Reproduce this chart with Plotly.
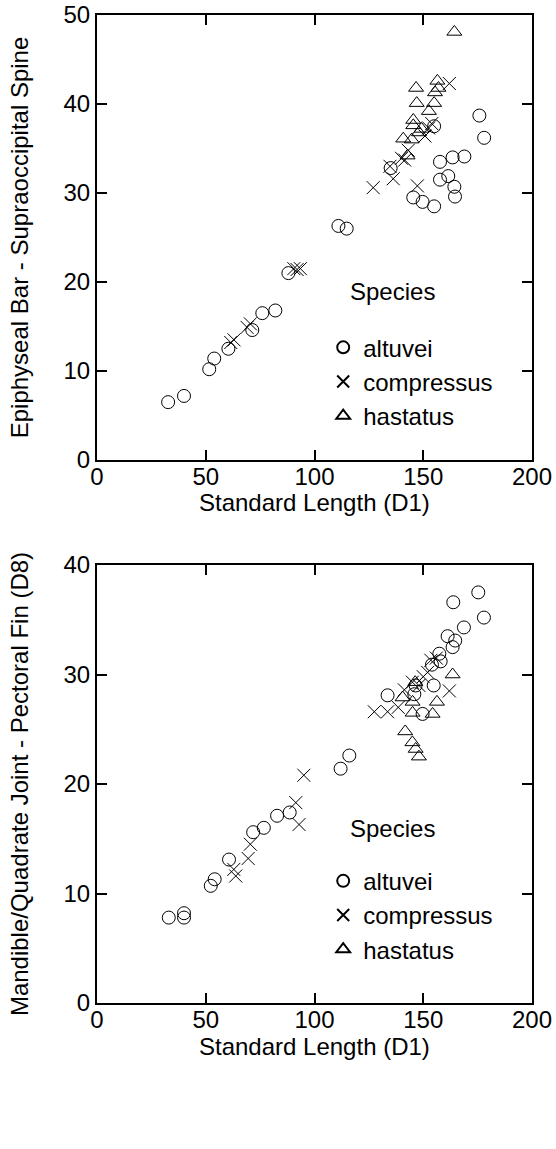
import plotly.graph_objects as go
from plotly.subplots import make_subplots

# top panel: Standard Length (D1) vs Epiphyseal Bar - Supraoccipital Spine
alt_d1_top = [32.7, 40, 51.6, 53.9, 60.4, 71.4, 76, 82, 88, 111, 114.8, 135, 155,
              145.4, 149.7, 155, 157.7, 157.7, 161.5, 164.3, 164.6, 163.5, 168.9, 175.8, 178]
alt_epi = [6.5, 7.2, 10.2, 11.4, 12.5, 14.6, 16.5, 16.8, 21.0, 26.3, 26.0, 32.8, 37.5,
           29.5, 29.0, 28.5, 31.5, 33.5, 31.9, 30.7, 29.6, 34.0, 34.1, 38.7, 36.2]

com_d1_top = [61.5, 63, 69, 70.5, 90.5, 92, 93.5, 127, 134.7, 136.2, 140, 141.5, 143.1,
              147.3, 150.8, 152.5, 153.9, 162]
com_epi = [13.2, 13.5, 14.9, 15.3, 21.5, 21.4, 21.5, 30.6, 33.0, 31.6, 33.9, 33.7, 34.8,
           30.8, 36.4, 37.3, 37.8, 42.3]

has_d1_top = [164.3, 156.5, 146.7, 155.4, 157, 147, 155, 152.6, 145.4, 145.4, 149.2,
              140.8, 144.7, 142.8, 148]
has_epi = [48.1, 42.6, 41.8, 41.3, 41.8, 40.1, 40.1, 39.2, 38.2, 37.6, 37.2,
           36.1, 36.0, 34.2, 36.8]

# bottom panel: Standard Length (D1) vs Mandible/Quadrate Joint - Pectoral Fin (D8)
alt_d1_bot = [33, 40, 40, 52.3, 54.1, 60.7, 71.8, 76.7, 82.8, 88.6, 112, 116,
              133.6, 145.9, 146.5, 149.7, 154.8, 154, 158, 157.4, 163.5, 164.7, 161.2,
              168.7, 177.9, 163.8, 175.3]
alt_d8 = [7.8, 8.2, 7.8, 10.7, 11.3, 13.1, 15.6, 16.0, 17.1, 17.4, 21.4, 22.6,
          28.1, 28.2, 29.0, 26.4, 29.0, 30.9, 31.2, 31.9, 32.5, 33.1, 33.5,
          34.3, 35.2, 36.6, 37.5]

com_d1_bot = [62.9, 63.8, 69.5, 70.5, 91.4, 92.9, 95.1, 127.5, 133.6, 138.5, 141.3,
              145, 148, 150, 152, 153.5, 156, 162]
com_d8 = [12.2, 11.6, 13.2, 14.5, 18.3, 16.3, 20.8, 26.6, 26.6, 27.0, 28.6,
          29.3, 29.0, 29.8, 30.2, 31.3, 31.5, 28.5]

has_d1_bot = [163.5, 146.3, 140.5, 145.1, 145.1, 156.3, 154.3, 141.7, 145, 146.5, 148]
has_d8 = [30.0, 29.3, 27.9, 27.5, 26.5, 27.5, 26.4, 24.8, 23.8, 23.2, 22.5]

species = ["altuvei", "compressus", "hastatus"]
symbols = ["circle-open", "x-thin-open", "triangle-up-open"]

FONT = "Liberation Sans, Arial, sans-serif"
FS = 24

fig = make_subplots(rows=2, cols=1)

top = [(alt_d1_top, alt_epi), (com_d1_top, com_epi), (has_d1_top, has_epi)]
bot = [(alt_d1_bot, alt_d8), (com_d1_bot, com_d8), (has_d1_bot, has_d8)]

for i, (xs, ys) in enumerate(top):
    fig.add_trace(go.Scatter(x=xs, y=ys, mode='markers', name=species[i],
                             legend='legend',
                             marker=dict(symbol=symbols[i], size=13, color='black',
                                         line=dict(width=1, color='black'))),
                  row=1, col=1)
for i, (xs, ys) in enumerate(bot):
    fig.add_trace(go.Scatter(x=xs, y=ys, mode='markers', name=species[i],
                             legend='legend2',
                             marker=dict(symbol=symbols[i], size=13, color='black',
                                         line=dict(width=1, color='black'))),
                  row=2, col=1)

axis_style = dict(showline=True, linecolor='black', linewidth=2, mirror='ticks',
                  ticks='inside', ticklen=10, tickwidth=1.5, tickcolor='black',
                  showgrid=False, zeroline=False, automargin=False,
                  ticklabeloverflow='allow',
                  tickfont=dict(size=FS, color='black', family=FONT))

fig.update_xaxes(axis_style)
fig.update_yaxes(axis_style)

fig.update_xaxes(range=[0, 200], dtick=50, domain=[0, 1], ticklabelstandoff=-6)
fig.update_yaxes(range=[0, 50], dtick=10, domain=[0.5496, 1.0], row=1, col=1,
                 title=dict(text='Epiphyseal Bar - Supraoccipital Spine', standoff=28,
                            font=dict(size=FS, color='black', family=FONT)))
fig.update_yaxes(range=[0, 40], dtick=10, domain=[0.0, 0.4433], row=2, col=1,
                 title=dict(text='Mandible/Quadrate Joint - Pectoral Fin (D8)', standoff=28,
                            font=dict(size=FS, color='black', family=FONT)))

# x-axis titles sit tight under the tick labels, as annotations
for ty in [0.5061, -0.0445]:
    fig.add_annotation(text='Standard Length (D1)', x=0.5, y=ty, xref='paper', yref='paper',
                       xanchor='center', yanchor='middle', showarrow=False,
                       font=dict(size=FS, color='black', family=FONT))

legend_style = dict(font=dict(size=FS, color='black', family=FONT),
                    bgcolor='rgba(0,0,0,0)', borderwidth=0,
                    xanchor='left', yanchor='top', itemsizing='constant',
                    tracegroupgap=0)

fig.add_annotation(text='Species', x=0.68, y=0.7206, xref='paper', yref='paper',
                   xanchor='center', yanchor='middle', showarrow=False,
                   font=dict(size=FS, color='black', family=FONT))
fig.add_annotation(text='Species', x=0.68, y=0.177, xref='paper', yref='paper',
                   xanchor='center', yanchor='middle', showarrow=False,
                   font=dict(size=FS, color='black', family=FONT))

fig.update_layout(
    width=556, height=1149,
    margin=dict(l=97, r=24, t=15, b=146, autoexpand=False),
    plot_bgcolor='white', paper_bgcolor='white',
    font=dict(family=FONT, size=FS, color='black'),
    legend=dict(legend_style, x=0.52, y=0.686),
    legend2=dict(legend_style, x=0.52, y=0.146),
)

# drop the page's default 8px body margin so the figure fills the window exactly
fig.write_html("out.html", config={'displayModeBar': False},
               post_script="document.body.style.margin='0';")
